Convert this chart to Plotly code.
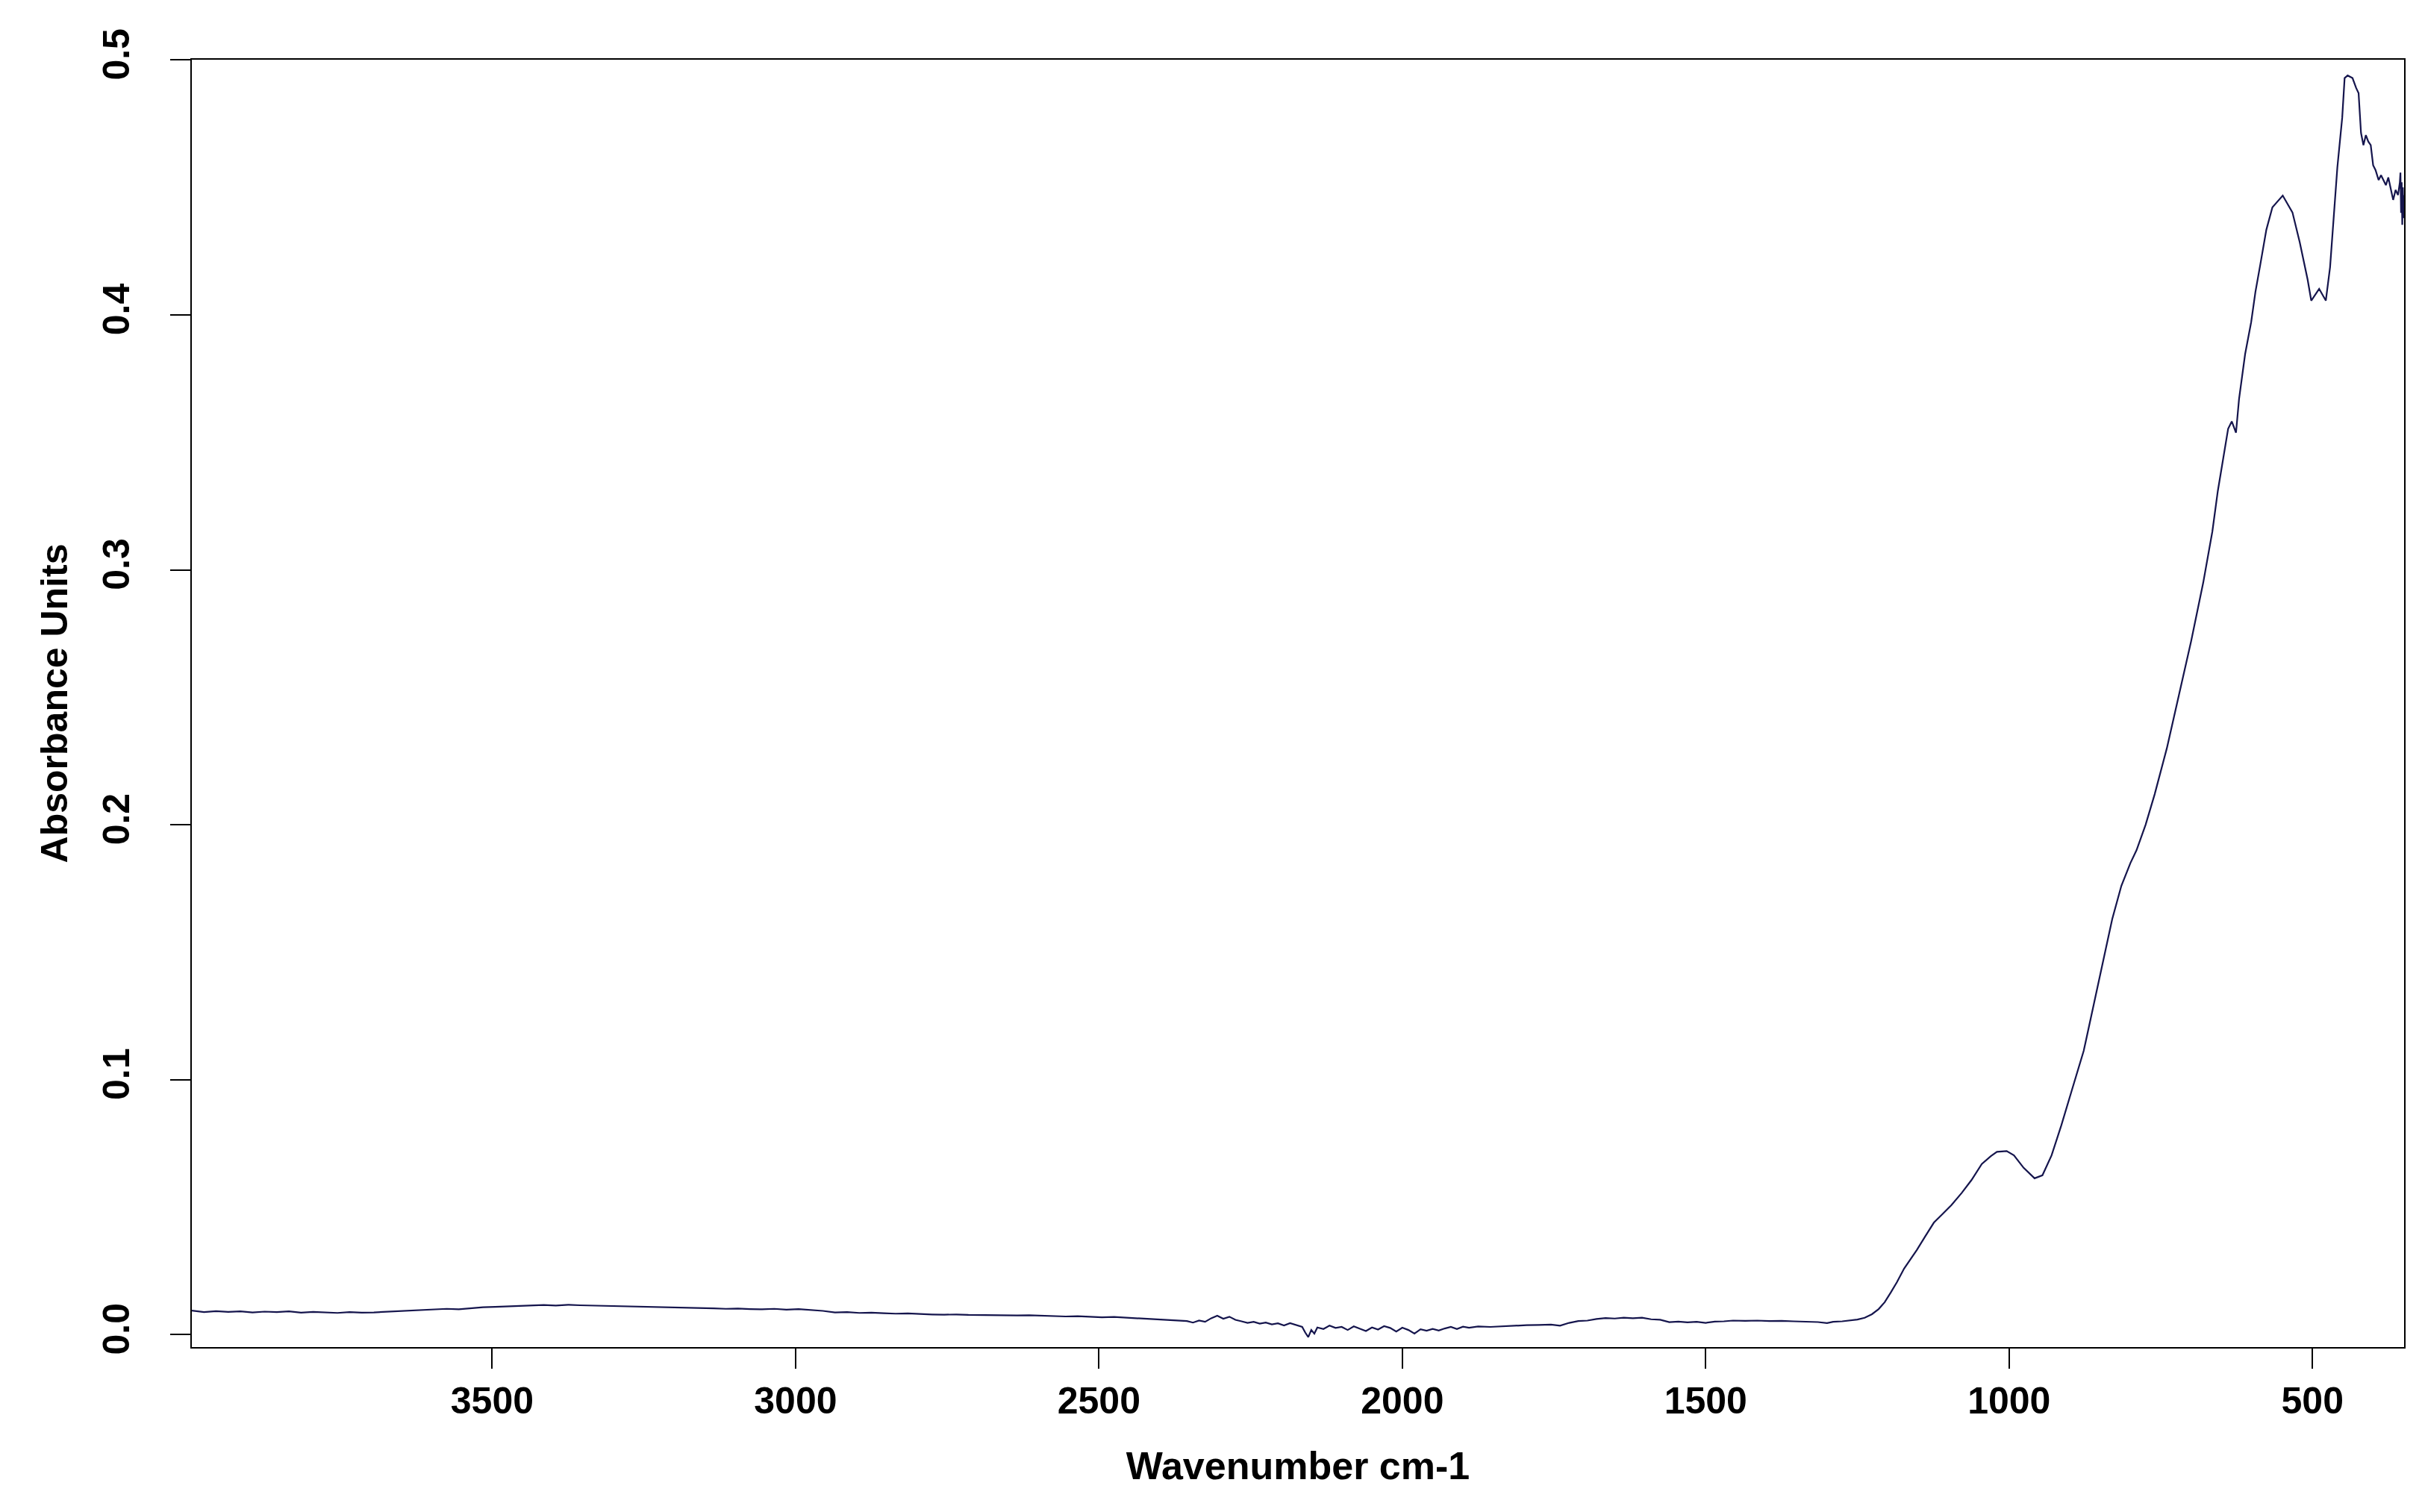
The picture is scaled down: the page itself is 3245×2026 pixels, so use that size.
import plotly.graph_objects as go

# Wavenumber (cm-1) and absorbance
wavenumber = [
    3995, 3975, 3955, 3935, 3915, 3895, 3875, 3855, 3835, 3815, 3795, 3775, 3755, 3735, 3715, 3695,
    3675, 3655, 3635, 3615, 3595, 3575, 3555, 3535, 3515, 3495, 3475, 3455, 3435, 3415, 3395, 3375,
    3355, 3335, 3315, 3295, 3275, 3255, 3235, 3215, 3195, 3175, 3155, 3135, 3115, 3095, 3075, 3055,
    3035, 3015, 2995, 2975, 2955, 2935, 2915, 2895, 2875, 2855, 2835, 2815, 2795, 2775, 2755, 2735,
    2715, 2695, 2675, 2655, 2635, 2615, 2595, 2575, 2555, 2535, 2515, 2495, 2475, 2455, 2435, 2415,
    2395, 2375, 2355, 2345, 2335, 2325, 2315, 2305, 2295, 2285, 2275, 2265, 2255, 2245, 2235, 2225,
    2215, 2205, 2195, 2185, 2175, 2165, 2160, 2155, 2150, 2145, 2140, 2130, 2120, 2110, 2100, 2090,
    2080, 2070, 2060, 2050, 2040, 2030, 2020, 2010, 2000, 1990, 1980, 1970, 1960, 1950, 1940, 1930,
    1920, 1910, 1900, 1890, 1875, 1855, 1835, 1815, 1795, 1775, 1755, 1740, 1725, 1710, 1695, 1680,
    1665, 1650, 1635, 1620, 1605, 1590, 1575, 1560, 1545, 1530, 1515, 1500, 1485, 1470, 1455, 1435,
    1415, 1395, 1375, 1355, 1335, 1315, 1300, 1290, 1275, 1260, 1250, 1238, 1226, 1215, 1205, 1195,
    1185, 1173, 1162, 1152, 1138, 1124, 1110, 1095, 1078, 1062, 1045, 1030, 1020, 1004, 992, 976,
    958, 945, 930, 914, 898, 877, 860, 845, 830, 815, 800, 790, 775, 760, 740, 720,
    700, 680, 665, 656, 648, 639, 633, 626, 621, 611, 601, 594, 586, 576, 566, 549,
    533, 521, 508, 502, 489, 478, 471, 465, 459, 451, 447, 442, 434, 428, 424, 420,
    416, 412, 408, 404, 400, 396, 391, 387, 383, 379, 375, 371, 367, 363, 359, 356,
    355, 354, 353, 352, 351, 350, 349.5,
]

absorbance = [
    0.0094, 0.0088, 0.0092, 0.0089, 0.0091, 0.0087, 0.0090, 0.0088, 0.0091, 0.0086, 0.0089, 0.0087, 0.0085, 0.0088, 0.0086, 0.0087,
    0.0089, 0.0091, 0.0093, 0.0095, 0.0098, 0.0101, 0.0099, 0.0104, 0.0107, 0.0109, 0.0111, 0.0113, 0.0115, 0.0116, 0.0114, 0.0117,
    0.0115, 0.0114, 0.0112, 0.0113, 0.0110, 0.0111, 0.0109, 0.0108, 0.0106, 0.0107, 0.0104, 0.0103, 0.0101, 0.0102, 0.0100, 0.0099,
    0.0101, 0.0098, 0.0100, 0.0097, 0.0093, 0.0087, 0.0088, 0.0085, 0.0086, 0.0084, 0.0082, 0.0083, 0.0080, 0.0079, 0.0078, 0.0079,
    0.0077, 0.0076, 0.0077, 0.0076, 0.0075, 0.0076, 0.0074, 0.0073, 0.0071, 0.0072, 0.0069, 0.0068, 0.0069, 0.0066, 0.0064, 0.0062,
    0.0059, 0.0056, 0.0053, 0.0047, 0.0055, 0.0050, 0.0064, 0.0074, 0.0062, 0.0070, 0.0058, 0.0052, 0.0046, 0.0050, 0.0043, 0.0047,
    0.0040, 0.0044, 0.0036, 0.0045, 0.0038, 0.0030, 0.0008, -0.0010, 0.0018, 0.0004, 0.0028, 0.0022, 0.0035, 0.0026, 0.0030, 0.0018,
    0.0032, 0.0024, 0.0014, 0.0028, 0.0020, 0.0033, 0.0026, 0.0012, 0.0027, 0.0018, 0.0004, 0.0021, 0.0015, 0.0022, 0.0016, 0.0024,
    0.0030, 0.0022, 0.0031, 0.0027, 0.0032, 0.0030, 0.0033, 0.0035, 0.0037, 0.0038, 0.0039, 0.0035, 0.0046, 0.0053, 0.0055, 0.0061,
    0.0065, 0.0063, 0.0066, 0.0064, 0.0066, 0.0060, 0.0058, 0.0049, 0.0051, 0.0048, 0.0050, 0.0046, 0.0051, 0.0052, 0.0055, 0.0054,
    0.0055, 0.0053, 0.0054, 0.0052, 0.0050, 0.0049, 0.0045, 0.0050, 0.0052, 0.0057, 0.0059, 0.0066, 0.0080, 0.0100, 0.0127, 0.0165,
    0.0205, 0.0259, 0.0298, 0.0332, 0.0386, 0.0439, 0.0472, 0.0508, 0.0556, 0.0606, 0.0669, 0.0700, 0.0717, 0.0720, 0.0703, 0.0654,
    0.0613, 0.0625, 0.0703, 0.0820, 0.0947, 0.1113, 0.1300, 0.1470, 0.1630, 0.1760, 0.1850, 0.1900, 0.2000, 0.2120, 0.2300, 0.2510,
    0.2720, 0.2950, 0.3150, 0.3309, 0.3426, 0.3553, 0.3582, 0.3538, 0.3670, 0.3846, 0.3972, 0.4090, 0.4197, 0.4334, 0.4422, 0.4468,
    0.4402, 0.4285, 0.4139, 0.4056, 0.4102, 0.4056, 0.4187, 0.4382, 0.4578, 0.4773, 0.4929, 0.4939, 0.4929, 0.4890, 0.4870, 0.4714,
    0.4666, 0.4705, 0.4680, 0.4666, 0.4587, 0.4568, 0.4529, 0.4548, 0.4529, 0.4509, 0.4539, 0.4490, 0.4451, 0.4490, 0.4470, 0.4520,
    0.4558, 0.4400, 0.4520, 0.4353, 0.4500, 0.4380, 0.4470,
]

x_ticks = [3500, 3000, 2500, 2000, 1500, 1000, 500]
y_ticks = [0.0, 0.1, 0.2, 0.3, 0.4, 0.5]
x_title = "Wavenumber cm-1"
y_title = "Absorbance Units"

line_color = "#15154d"
font_family = "Liberation Sans, Arial, sans-serif"

fig = go.Figure()
fig.add_trace(go.Scatter(
    x=wavenumber, y=absorbance, mode="lines",
    line=dict(color=line_color, width=2.2),
    showlegend=False,
))

axis_common = dict(
    showline=True, linecolor="black", linewidth=2, mirror=True,
    ticks="outside", ticklen=27, tickwidth=2, tickcolor="black",
    showgrid=False, zeroline=False,
    tickfont=dict(family=font_family, size=50, color="black", weight="bold"),
)

fig.update_layout(
    width=3245, height=2026,
    margin=dict(l=249, r=32, t=72, b=229, pad=0),
    paper_bgcolor="white", plot_bgcolor="white",
    xaxis=dict(
        range=[3995, 349], tickvals=x_ticks,
        ticktext=[str(v) for v in x_ticks],
        title=dict(text=x_title, standoff=42,
                   font=dict(family=font_family, size=52, color="black", weight="bold")),
        **axis_common,
    ),
    yaxis=dict(
        range=[-0.0049, 0.5001], tickvals=y_ticks,
        ticktext=[f"{v:.1f}" for v in y_ticks], tickangle=-90,
        ticklabelstandoff=35,
        title=dict(text=y_title, standoff=22,
                   font=dict(family=font_family, size=50, color="black", weight="bold")),
        **axis_common,
    ),
)

fig.write_html("out.html")
